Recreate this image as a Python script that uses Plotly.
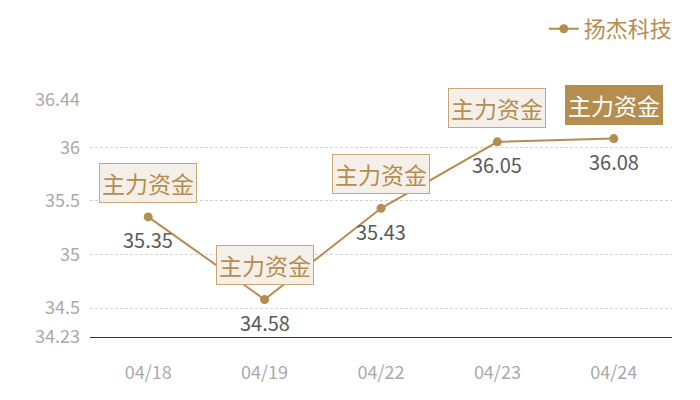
import plotly.graph_objects as go

dates = ["04/18", "04/19", "04/22", "04/23", "04/24"]
prices = [35.35, 34.58, 35.43, 36.05, 36.08]
y_ticks = [34.23, 34.5, 35, 35.5, 36, 36.44]
box_label = "主力资金"
series_name = "扬杰科技"

gold = "#b58d4f"
cjk = "Noto Sans CJK SC"

fig = go.Figure()

fig.add_trace(go.Scatter(
    x=dates, y=prices, name=series_name,
    mode="lines+markers",
    line=dict(color=gold, width=2),
    marker=dict(size=9, color=gold),
))

# value labels under each point
for d, p in zip(dates, prices):
    fig.add_annotation(
        x=d, y=p, xref="x", yref="y", text=f"{p:.2f}",
        showarrow=False, yshift=-23,
        font=dict(family=cjk, size=20, color="#5a5a5a"),
    )

# "主力资金" tags above each point, the last one highlighted
for i, (d, p) in enumerate(zip(dates, prices)):
    last = i == len(dates) - 1
    fig.add_annotation(
        x=d, y=p, xref="x", yref="y", text=box_label,
        showarrow=False, yshift=34,
        font=dict(family=cjk, size=23, color="white" if last else gold),
        bgcolor=gold if last else "#f4efe8",
        bordercolor=gold if last else "#c9a676",
        borderwidth=1, borderpad=2,
    )

# the page body keeps an 8px margin, so the figure is 684x384
fig.update_layout(
    width=684, height=384,
    template="plotly_white",
    plot_bgcolor="white", paper_bgcolor="white",
    margin=dict(l=82, r=20, t=92, b=55, autoexpand=False),
    showlegend=True,
    legend=dict(
        orientation="h", x=1.01, xanchor="right",
        yref="container", y=1, yanchor="top",
        font=dict(family=cjk, size=22, color=gold),
        itemwidth=30,
    ),
    xaxis=dict(
        type="category", range=[-0.5, 4.5], showgrid=False, automargin=False,
        showline=True, linecolor="#333333", linewidth=1,
        ticks="", ticklabelstandoff=19,
        tickfont=dict(family=cjk, size=18, color="#aaaaaa"),
    ),
    yaxis=dict(
        range=[34.23, 36.44], tickvals=y_ticks, automargin=False,
        ticktext=[str(v) for v in y_ticks],
        showgrid=True, gridcolor="#d4d4d4", griddash="3px,2px", gridwidth=1,
        zeroline=False, showline=False, ticks="", ticklabelstandoff=9,
        tickfont=dict(family=cjk, size=18, color="#aaaaaa"),
    ),
)

fig.write_html("out.html")
